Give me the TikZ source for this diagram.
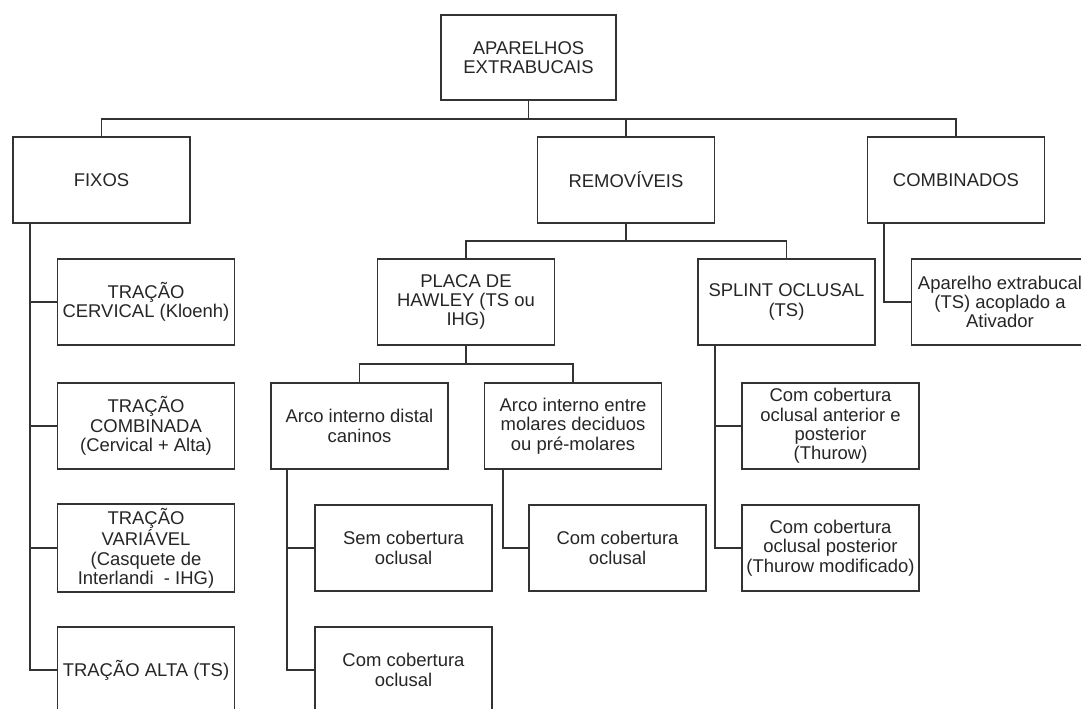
\documentclass[tikz,border=0pt]{standalone}
\usepackage{fontspec}
\setmainfont{Liberation Sans}
\begin{document}
\begin{tikzpicture}[x=0.02cm,y=-0.02cm,
  box/.style={draw=black!80, line width=1.1pt, fill=white, text=black!85,
    minimum width=3.54cm, minimum height=1.72cm, inner xsep=1pt, inner ysep=2pt,
    align=center, font=\fontsize{10.5}{11}\selectfont},
  link/.style={draw=black!80, line width=1.1pt}]
\useasboundingbox (0,0) rectangle (1081,709);
\clip (0,0) rectangle (1081,709);
\fill[white] (0,0) rectangle (1081,709);

% nodes
\node[box, minimum width=3.5cm, minimum height=1.7cm] (root) at (528.5,57.5) {APARELHOS\\EXTRABUCAIS};
\node[box] (fixos) at (101.5,180) {FIXOS};
\node[box] (remov) at (626,180) {REMOVÍVEIS};
\node[box] (comb) at (956,180) {COMBINADOS};

\node[box] (tc) at (146,302) {TRAÇÃO\\CERVICAL (Kloenh)};
\node[box] (tcomb) at (146,426) {TRAÇÃO\\COMBINADA\\(Cervical + Alta)};
\node[box] (tvar) at (146,548) {TRAÇÃO\\VARIÁVEL\\(Casquete de\\Interlandi\ \ - IHG)};
\node[box] (talta) at (146,670) {TRAÇÃO ALTA (TS)};

\node[box] (placa) at (466,302) {PLACA DE\\HAWLEY (TS ou\\IHG)};
\node[box] (splint) at (786.5,302) {SPLINT OCLUSAL\\(TS)};
\node[box] (apar) at (1000,302) {Aparelho extrabucal\\(TS) acoplado a\\Ativador};

\node[box] (arcod) at (359.5,426) {Arco interno distal\\caninos};
\node[box] (arcoe) at (573,426) {Arco interno entre\\molares deciduos\\ou pré-molares};
\node[box] (sem) at (403.5,548) {Sem cobertura\\oclusal};
\node[box] (com1) at (403.5,670) {Com cobertura\\oclusal};
\node[box] (com2) at (617.5,548) {Com cobertura\\oclusal};

\node[box] (comap) at (830.5,426) {Com cobertura\\oclusal anterior e\\posterior\\(Thurow)};
\node[box] (compost) at (830.5,548) {Com cobertura\\oclusal posterior\\(Thurow modificado)};

% connectors
\draw[link] (root.south) -- ++(0,18) -| (fixos.north);
\draw[link] (root.south) -- ++(0,18) -| (remov.north);
\draw[link] (root.south) -- ++(0,18) -| (comb.north);

\draw[link] (remov.south) -- ++(0,17) -| (placa.north);
\draw[link] (remov.south) -- ++(0,17) -| (splint.north);

\draw[link] (placa.south) -- ++(0,18) -| (arcod.north);
\draw[link] (placa.south) -- ++(0,18) -| (arcoe.north);

\draw[link] ([xshift=0.36cm]fixos.south west) |- (tc.west);
\draw[link] ([xshift=0.36cm]fixos.south west) |- (tcomb.west);
\draw[link] ([xshift=0.36cm]fixos.south west) |- (tvar.west);
\draw[link] ([xshift=0.36cm]fixos.south west) |- (talta.west);

\draw[link] ([xshift=0.34cm]comb.south west) |- (apar.west);

\draw[link] ([xshift=0.34cm]arcod.south west) |- (sem.west);
\draw[link] ([xshift=0.34cm]arcod.south west) |- (com1.west);

\draw[link] ([xshift=0.38cm]arcoe.south west) |- (com2.west);

\draw[link] ([xshift=0.36cm]splint.south west) |- (comap.west);
\draw[link] ([xshift=0.36cm]splint.south west) |- (compost.west);
\end{tikzpicture}
\end{document}
